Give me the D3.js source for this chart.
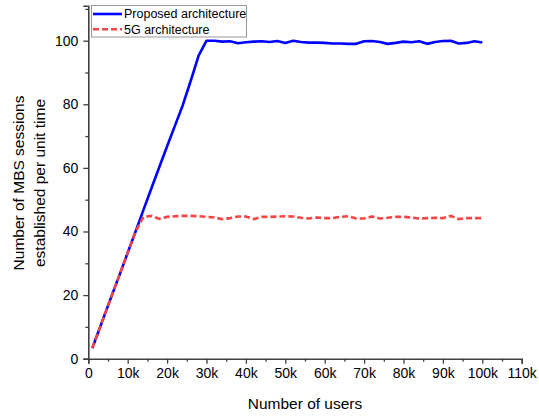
<!DOCTYPE html>
<html>
<head>
<meta charset="utf-8">
<script src="https://cdn.jsdelivr.net/npm/d3@7"></script>
<style>
  html, body { margin: 0; padding: 0; background: #fff; }
  svg { display: block; font-family: "Liberation Sans", Arial, sans-serif; }
</style>
</head>
<body>
<svg id="chart" width="539" height="417"></svg>
<script>
const users = [1000, 2000, 4000, 6000, 8000, 10000, 12000, 14000, 16000, 18000, 20000,
  22000, 24000, 26000, 28000, 30000, 32000, 34000, 36000, 38000, 40000,
  42000, 44000, 46000, 48000, 50000, 52000, 54000, 56000, 58000, 60000,
  62000, 64000, 66000, 68000, 70000, 72000, 74000, 76000, 78000, 80000,
  82000, 84000, 86000, 88000, 90000, 92000, 94000, 96000, 98000, 100000];

const proposed = [3.3, 6.6, 13.3, 20.0, 26.6, 33.3, 40.0, 46.8, 53.5, 60.2, 66.8,
  73.3, 79.8, 87.4, 95.3, 100.0, 100.0, 99.7, 99.8, 99.2, 99.5,
  99.7, 99.8, 99.6, 99.9, 99.3, 100.0, 99.6, 99.4, 99.4, 99.3,
  99.1, 99.1, 99.0, 99.0, 99.8, 99.9, 99.6, 99.0, 99.3, 99.7,
  99.5, 99.8, 99.0, 99.6, 99.9, 100.0, 99.1, 99.3, 99.8, 99.4];

const fiveG = [3.3, 6.6, 13.3, 20.0, 26.6, 33.3, 40.0, 44.6, 44.9, 44.0, 44.6,
  44.8, 44.9, 44.9, 44.8, 44.6, 44.4, 43.9, 44.2, 44.7, 44.7,
  43.9, 44.6, 44.6, 44.7, 44.8, 44.7, 44.3, 44.1, 44.4, 44.2,
  44.2, 44.6, 44.8, 44.1, 44.1, 44.7, 44.1, 44.3, 44.6, 44.6,
  44.4, 44.1, 44.2, 44.3, 44.2, 44.9, 43.9, 44.2, 44.2, 44.2];

const xTicks = [0, 10000, 20000, 30000, 40000, 50000, 60000, 70000, 80000, 90000, 100000, 110000];
const xTickLabels = ["0", "10k", "20k", "30k", "40k", "50k", "60k", "70k", "80k", "90k", "100k", "110k"];
const yTicks = [0, 20, 40, 60, 80, 100];
const seriesNames = ["Proposed architecture", "5G architecture"];

const svg = d3.select("#chart");
const axisColor = "#404040";

const x = d3.scaleLinear().domain([0, 110000]).range([88.3, 521.7]);
const y = d3.scaleLinear().domain([0, 111]).range([358.7, 5.7]);

// X axis
const xMinor = d3.range(5000, 110000, 10000);
const gx = svg.append("g").attr("transform", `translate(0,${y(0)})`);
gx.append("g")
  .call(d3.axisBottom(x).tickValues(xMinor).tickSize(3).tickFormat(""))
  .call(g => g.select(".domain").remove())
  .selectAll("line").attr("stroke", axisColor).attr("stroke-width", 1.3);
gx.append("g")
  .call(d3.axisBottom(x).tickValues(xTicks).tickSize(5).tickPadding(4)
    .tickFormat((d, i) => xTickLabels[i]))
  .call(g => g.select(".domain").attr("stroke", axisColor).attr("stroke-width", 1.6))
  .call(g => g.selectAll("line").attr("stroke", axisColor).attr("stroke-width", 1.3))
  .call(g => g.selectAll("text").attr("font-size", 14).attr("fill", "#000")
    .attr("font-family", "'Liberation Sans', Arial, sans-serif"));

// Y axis
const yMinor = d3.range(10, 111, 20);
const gy = svg.append("g").attr("transform", `translate(${x(0)},0)`);
gy.append("g")
  .call(d3.axisLeft(y).tickValues(yMinor).tickSize(3).tickFormat(""))
  .call(g => g.select(".domain").remove())
  .selectAll("line").attr("stroke", axisColor).attr("stroke-width", 1.3);
gy.append("g")
  .call(d3.axisLeft(y).tickValues(yTicks).tickSize(5).tickPadding(5))
  .call(g => g.select(".domain").attr("stroke", axisColor).attr("stroke-width", 1.6))
  .call(g => g.selectAll("line").attr("stroke", axisColor).attr("stroke-width", 1.3))
  .call(g => g.selectAll("text").attr("font-size", 14).attr("fill", "#000")
    .attr("font-family", "'Liberation Sans', Arial, sans-serif"));

// Axis titles
svg.append("text")
  .attr("x", 305).attr("y", 409)
  .attr("text-anchor", "middle").attr("font-size", 15.5).attr("fill", "#000")
  .text("Number of users");

const yTitle = svg.append("text")
  .attr("transform", "translate(0,183) rotate(-90)")
  .attr("text-anchor", "middle").attr("font-size", 15.5).attr("fill", "#000");
yTitle.append("tspan").attr("x", 0).attr("y", 24).text("Number of MBS sessions");
yTitle.append("tspan").attr("x", 0).attr("y", 45).text("established per unit time");

// Lines
const line = d3.line().x((d, i) => x(users[i])).y(d => y(d));

svg.append("path")
  .datum(proposed)
  .attr("fill", "none")
  .attr("stroke", "#0000ff")
  .attr("stroke-width", 2.6)
  .attr("stroke-linejoin", "round")
  .attr("d", line);

svg.append("path")
  .datum(fiveG)
  .attr("fill", "none")
  .attr("stroke", "#f84444")
  .attr("stroke-width", 2.6)
  .attr("stroke-dasharray", "6,3")
  .attr("d", line);

// Legend
const legend = svg.append("g");
legend.append("rect")
  .attr("x", 91.5).attr("y", 5.5).attr("width", 155).attr("height", 31.5)
  .attr("fill", "#fff").attr("stroke", "#999").attr("stroke-width", 1);
const legColors = ["#0000ff", "#f84444"];
const legDash = [null, "6,3"];
seriesNames.forEach((name, i) => {
  const yy = 14 + i * 15.3;
  legend.append("line")
    .attr("x1", 93).attr("x2", 122).attr("y1", yy).attr("y2", yy)
    .attr("stroke", legColors[i]).attr("stroke-width", 2.6)
    .attr("stroke-dasharray", legDash[i]);
  legend.append("text")
    .attr("x", 124).attr("y", yy + 4.3)
    .attr("font-size", 12.5).attr("fill", "#000")
    .text(name);
});
</script>
</body>
</html>
